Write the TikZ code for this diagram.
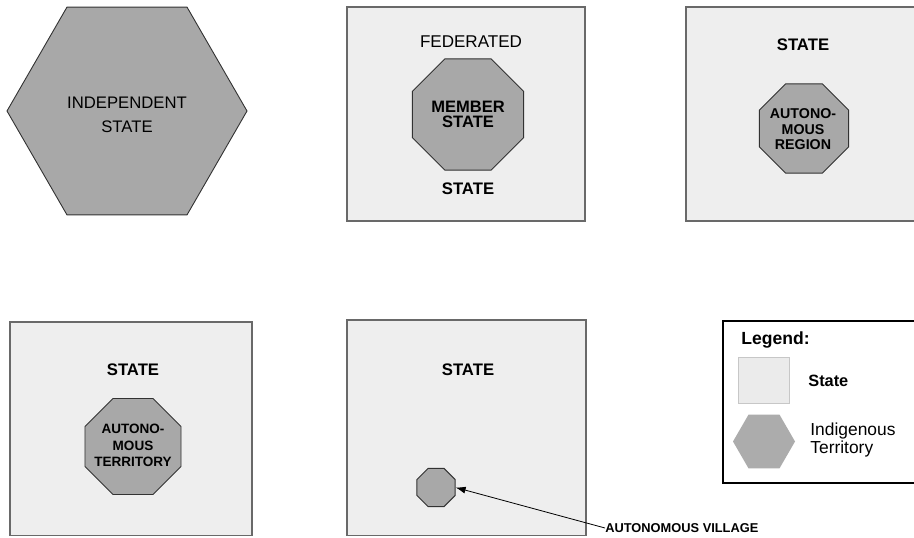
\documentclass[tikz,border=0pt]{standalone}
\usepackage{fontspec}
\setmainfont{Liberation Sans}
\usetikzlibrary{shapes.geometric,arrows.meta}
\definecolor{statefill}{RGB}{238,238,238}
\definecolor{stateline}{RGB}{105,105,105}
\definecolor{terrfill}{RGB}{168,168,168}
\definecolor{terrline}{RGB}{50,50,50}
\definecolor{legfill}{RGB}{172,172,172}
\tikzset{
  statebox/.style={draw=stateline, fill=statefill, line width=0.030cm},
  terrhex/.style={regular polygon, regular polygon sides=6, draw=terrline, fill=terrfill,
    line width=0.018cm, inner sep=0pt, minimum size=#1},
  terroct/.style={regular polygon, regular polygon sides=8, draw=terrline, fill=terrfill,
    line width=0.018cm, inner sep=0pt, minimum size=#1},
  caps/.style={inner sep=0pt, align=center, font=\fontsize{#1}{#1}\selectfont\bfseries},
}
\begin{document}
\begin{tikzpicture}
                            \useasboundingbox (0,0) rectangle (18.280000,10.740000);
                            \clip (0,0) rectangle (18.280000,10.740000);

                            % Drawing independent state
                            \node [terrhex=4.800000cm] (indep) at (2.540000,8.520000) {};%
                            \node [inner sep=0pt, align=center, font=\fontsize{9.5}{13.7}\selectfont] (indeptext) at (2.540000,8.440000) {INDEPENDENT\\STATE};%

                            % Drawing federated state
                            \draw [statebox] (6.940000,6.320000) rectangle (11.700000,10.600000);%
                            \node [inner sep=0pt, font=\fontsize{9.7}{11}\selectfont] (fedtop) at (9.420000,9.900000) {FEDERATED};%
                            \node [caps=9.5] (fedbottom) at (9.360000,6.960000) {STATE};%
                            \node [terroct=2.410000cm] (member) at (9.360000,8.450000) {};%
                            \node [inner sep=0pt, align=center, font=\fontsize{9.4}{8.5}\selectfont\bfseries] (membertext) at (member.center) {MEMBER\\STATE};%

                            % Drawing state with autonomous region
                            \draw [statebox] (13.720000,6.320000) rectangle (18.400000,10.600000);%
                            \node [caps=9.5] (regionstate) at (16.060000,9.840000) {STATE};%
                            \node [terroct=1.930000cm] (region) at (16.080000,8.170000) {};%
                            \node [inner sep=0pt, align=center, font=\fontsize{8.1}{8.8}\selectfont\bfseries] (regiontext) at (16.060000,8.150000) {AUTONO-\\MOUS\\REGION};%

                            % Drawing state with autonomous territory
                            \draw [statebox] (0.200000,0.030000) rectangle (5.040000,4.300000);%
                            \node [caps=9.5] (terrstate) at (2.660000,3.340000) {STATE};%
                            \node [terroct=2.080000cm] (territory) at (2.660000,1.810000) {};%
                            \node [inner sep=0pt, align=center, font=\fontsize{7.7}{9.4}\selectfont\bfseries] (territorytext) at (2.660000,1.830000) {AUTONO-\\MOUS\\TERRITORY};%

                            % Drawing state with autonomous village
                            \draw [statebox] (6.940000,0.030000) rectangle (11.720000,4.340000);%
                            \node [caps=9.5] (villagestate) at (9.360000,3.340000) {STATE};%
                            \node [terroct=0.830000cm] (village) at (8.720000,0.990000) {};%
                            \node [inner sep=0pt, anchor=west, font=\fontsize{7.3}{8}\selectfont\bfseries] (villagelabel) at (12.100000,0.180000) {AUTONOMOUS VILLAGE};%

                            % Drawing arrow villagelabel village
                            \draw [line width=0.016cm, -{Latex[length=0.200000cm, width=0.140000cm]}] (villagelabel.west) -- (village.east);%

                            % Drawing legend
                            \draw [line width=0.040cm, draw=black, fill=white] (14.460000,1.080000) rectangle (18.400000,4.320000);%
                            \node [inner sep=0pt, anchor=west, font=\fontsize{10}{11}\selectfont\bfseries] (legendtitle) at (14.820000,3.940000) {Legend:};%
                            \draw [line width=0.016cm, draw=black!22, fill=black!8] (14.760000,2.680000) rectangle (15.780000,3.600000);%
                            \node [inner sep=0pt, anchor=west, font=\fontsize{9.3}{10}\selectfont\bfseries] (legendstate) at (16.160000,3.120000) {State};%
                            \node [regular polygon, regular polygon sides=6, fill=legfill, inner sep=0pt, minimum size=1.240000cm] (legendhex) at (15.280000,1.910000) {};%
                            \node [inner sep=0pt, anchor=west, align=left, font=\fontsize{9.9}{8.2}\selectfont] (legendterr) at (16.200000,1.940000) {Indigenous\\Territory};%
\end{tikzpicture}
\end{document}
